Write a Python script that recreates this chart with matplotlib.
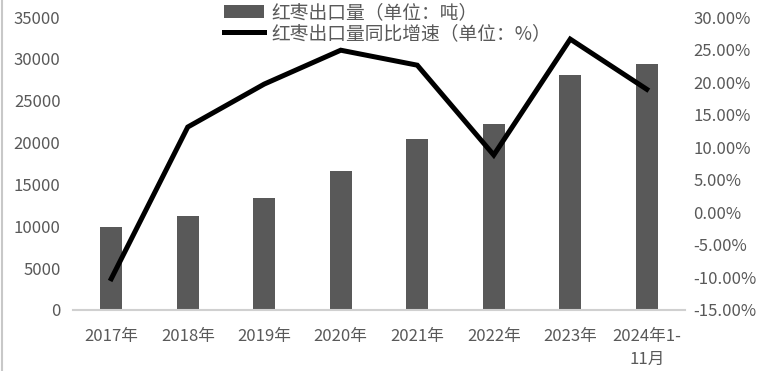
import numpy as np
import matplotlib.pyplot as plt
from matplotlib.lines import Line2D

plt.rcParams['font.family'] = ['Noto Sans CJK SC', 'DejaVu Sans']

# data
years = ['2017年', '2018年', '2019年', '2020年', '2021年', '2022年', '2023年', '2024年1-\n11月']
volume = [9900, 11200, 13400, 16600, 20400, 22200, 28100, 29400]        # tons
growth = [-10.2, 13.1, 19.7, 24.9, 22.6, 8.8, 26.6, 18.9]               # percent

txt = '#595959'

fig = plt.figure(figsize=(7.57, 3.71), dpi=100)
ax = fig.add_axes([73/757, 61/371, 612/757, 293/371])
ax2 = ax.twinx()

x = np.arange(len(years))
bars = ax.bar(x, volume, width=0.29, color='#595959', label='红枣出口量（单位：吨）', zorder=2)
line, = ax2.plot(x, growth, color='black', lw=3.6, label='红枣出口量同比增速（单位：%）',
                 solid_joinstyle='miter', zorder=3)

ax.set_xlim(-0.5, len(years) - 0.5)
ax.set_ylim(0, 35000)
ax.set_yticks(range(0, 35001, 5000))
ax2.set_ylim(-15, 30)
ax2.set_yticks(range(-15, 31, 5))
ax2.set_yticklabels(['%.2f%%' % v for v in range(-15, 31, 5)])

ax.set_xticks(x)
ax.set_xticklabels(years, linespacing=1.45)

for a in (ax, ax2):
    for s in a.spines.values():
        s.set_visible(False)
    a.tick_params(length=0, labelsize=12, colors=txt)
ax.spines['bottom'].set_visible(True)
ax.spines['bottom'].set_color('#d0d0d0')
ax.spines['bottom'].set_linewidth(1.5)
ax.tick_params(axis='y', pad=9)
ax.tick_params(axis='x', pad=13)
ax2.tick_params(axis='y', pad=6)

ax2.set_zorder(ax.get_zorder() + 1)
ax2.patch.set_visible(False)

leg = fig.legend([bars, line], [bars.get_label(), line.get_label()],
                 loc='upper left', bbox_to_anchor=(211/757, 1.03), frameon=False,
                 fontsize=13.5, handlelength=2.1, handletextpad=0.4, labelspacing=0.0,
                 borderpad=0.2)
for t in leg.get_texts():
    t.set_color(txt)

# thin border on the left edge
fig.add_artist(Line2D([2/757, 2/757], [0, 1], transform=fig.transFigure, color='#c8c8c8', lw=1.5))

fig.savefig('out.png', dpi=100)
